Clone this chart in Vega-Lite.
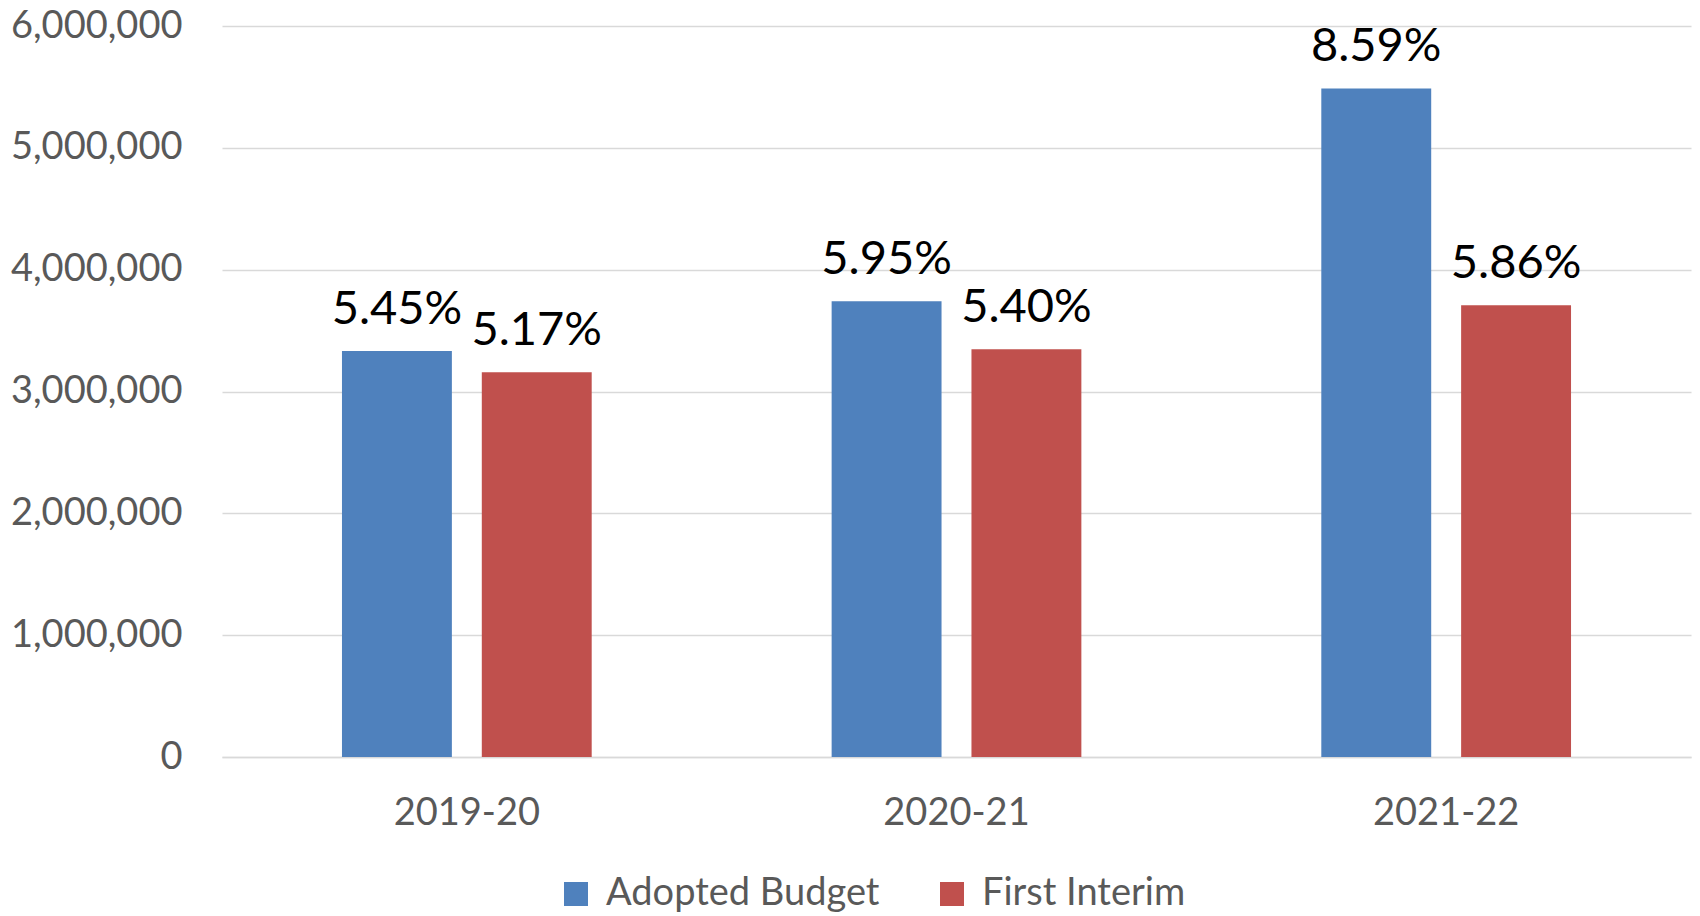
{
  "$schema": "https://vega.github.io/schema/vega-lite/v6.json",
  "width": 1469,
  "height": 731,
  "autosize": {"type": "none"},
  "padding": {"left": 222, "top": 26, "right": 9, "bottom": 159},
  "background": "white",
  "config": {"view": {"stroke": null}},
  "data": {
    "values": [
      {"year": "2019-20", "series": "Adopted Budget", "value": 3333000, "pct": "5.45%"},
      {"year": "2019-20", "series": "First Interim", "value": 3158000, "pct": "5.17%"},
      {"year": "2020-21", "series": "Adopted Budget", "value": 3741000, "pct": "5.95%"},
      {"year": "2020-21", "series": "First Interim", "value": 3347000, "pct": "5.40%"},
      {"year": "2021-22", "series": "Adopted Budget", "value": 5488000, "pct": "8.59%"},
      {"year": "2021-22", "series": "First Interim", "value": 3708000, "pct": "5.86%"}
    ]
  },
  "encoding": {
    "x": {
      "field": "year",
      "type": "nominal",
      "sort": null,
      "scale": {"paddingInner": 0.49, "paddingOuter": 0.245},
      "axis": {
        "title": null,
        "labelAngle": 0,
        "ticks": false,
        "domain": true,
        "domainColor": "#d9d9d9",
        "domainWidth": 1.5,
        "labelFont": "Lato",
        "labelFontSize": 38,
        "labelColor": "#595959",
        "labelPadding": 37
      }
    },
    "xOffset": {
      "field": "series",
      "sort": ["Adopted Budget", "First Interim"],
      "scale": {"paddingInner": 0.214, "paddingOuter": 0}
    },
    "y": {
      "field": "value",
      "type": "quantitative",
      "scale": {"domain": [0, 6000000], "nice": false},
      "axis": {
        "title": null,
        "values": [0, 1000000, 2000000, 3000000, 4000000, 5000000, 6000000],
        "format": ",d",
        "ticks": false,
        "domain": false,
        "grid": true,
        "gridColor": "#d9d9d9",
        "gridWidth": 1.5,
        "labelFont": "Lato",
        "labelFontSize": 38,
        "labelColor": "#595959",
        "labelPadding": 40
      }
    }
  },
  "layer": [
    {
      "mark": {"type": "bar"},
      "encoding": {
        "color": {
          "field": "series",
          "type": "nominal",
          "scale": {"domain": ["Adopted Budget", "First Interim"], "range": ["#4F81BD", "#C0504D"]},
          "legend": {
            "title": null,
            "orient": "none",
            "legendX": 335,
            "legendY": 849,
            "direction": "horizontal",
            "symbolType": "square",
            "symbolSize": 576,
            "symbolStrokeWidth": 0,
            "labelFont": "Lato",
            "labelFontSize": 38,
            "labelColor": "#595959",
            "labelLimit": 0,
            "labelOffset": 11,
            "columnPadding": 53,
            "padding": 0
          }
        }
      }
    },
    {
      "mark": {"type": "text", "baseline": "alphabetic", "dy": -27, "font": "Lato", "fontSize": 47, "color": "black"},
      "encoding": {"text": {"field": "pct"}}
    }
  ]
}
